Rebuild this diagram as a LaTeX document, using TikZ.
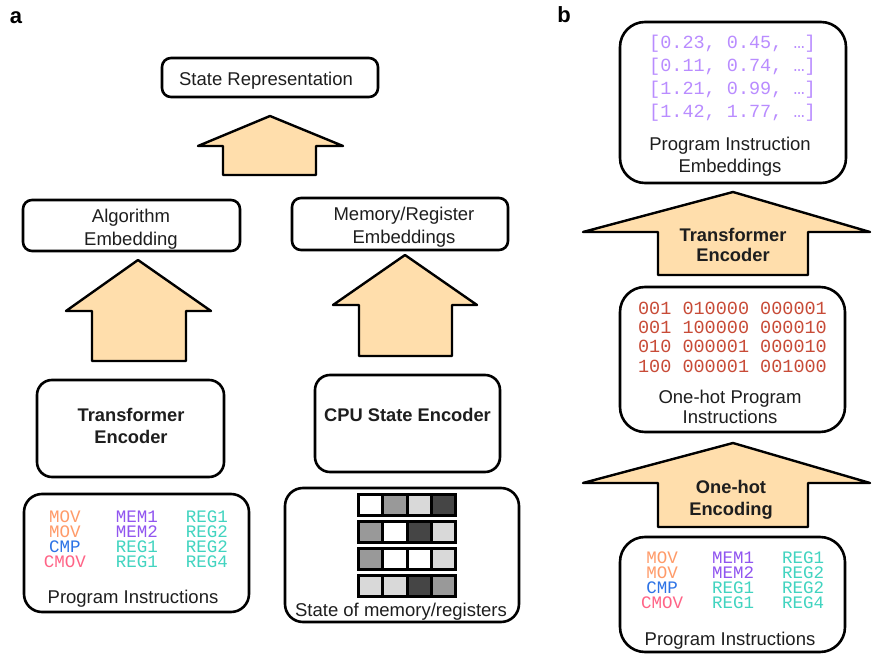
\documentclass[tikz,border=0pt]{standalone}
\usepackage{fontspec}
\setmainfont{Liberation Sans}
\newfontfamily\monof{Liberation Mono}
\definecolor{txtc}{RGB}{30,30,30}
\definecolor{arrowc}{RGB}{255,222,172}
\definecolor{embc}{RGB}{185,140,255}
\definecolor{ohc}{RGB}{200,75,55}
\definecolor{movc}{RGB}{255,155,105}
\definecolor{cmpc}{RGB}{45,115,230}
\definecolor{cmovc}{RGB}{255,100,135}
\definecolor{memc}{RGB}{145,85,240}
\definecolor{regc}{RGB}{65,212,192}
\definecolor{gmid}{gray}{0.6}
\definecolor{glight}{gray}{0.85}
\definecolor{gdark}{gray}{0.27}
\begin{document}
\begin{tikzpicture}[x=1pt,y=-1pt,
 box/.style={draw=black, line width=2.6pt, rounded corners=#1, fill=white, inner sep=0pt},
 box/.default=9pt,
 txt/.style={inner sep=0pt, text height=13.3pt, text depth=0pt, text=txtc, font=\fontsize{18.5}{20}\selectfont},
 btxt/.style={inner sep=0pt, text height=13.3pt, text depth=0pt, text=txtc, font=\fontsize{18.3}{20}\selectfont\bfseries},
 mono/.style={inner sep=0pt, text height=11pt, text depth=0pt, font=\monof\fontsize{18.5}{20}\selectfont},
 icol/.style={inner sep=0pt, anchor=base, text width=50pt, align=center, font=\monof\fontsize{17.5}{15}\selectfont},
 blockarrow/.style={draw=black, line width=2.4pt, fill=arrowc, line join=round},
 cell/.style={draw=black, line width=3pt},
 panel/.style={inner sep=0pt, anchor=base, font=\fontsize{22}{24}\selectfont\bfseries},
]
\useasboundingbox (0,0) rectangle (875,655);

% panel labels
\node[panel] (la) at (16,23.5) {a};
\node[panel] (lb) at (564,22.5) {b};

% ---------- panel a ----------
\node[box, minimum width=216pt, minimum height=39pt] (sr) at (270,77.5) {};
\node[txt] (srt) at (266,78.5) {State Representation};

\node[box, minimum width=217pt, minimum height=51pt] (ae) at (131.5,225.5) {};
\node[txt] (ae1) at (131,216) {Algorithm};
\node[txt] (ae2) at (131,239) {Embedding};

\node[box, minimum width=216pt, minimum height=52pt] (mr) at (400,224) {};
\node[txt] (mr1) at (404,214) {Memory/Register};
\node[txt] (mr2) at (404,236.5) {Embeddings};

\node[box=15pt, minimum width=187pt, minimum height=97pt] (te) at (130.5,428.5) {};
\node[btxt] (te1) at (131,415) {Transformer};
\node[btxt] (te2) at (131,436.5) {Encoder};

\node[box=15pt, minimum width=185pt, minimum height=97pt] (cpu) at (407.5,423.5) {};
\node[btxt] (cput) at (407.5,414.5) {CPU State Encoder};

% arrows panel a
\draw[blockarrow] (270,116) -- (343,146) -- (316,146) -- (316,175) -- (223,175) -- (223,146) -- (198,146) -- cycle;
\draw[blockarrow] (138,260) -- (211,311) -- (186,311) -- (186,361) -- (92,361) -- (92,311) -- (66,311) -- cycle;
\draw[blockarrow] (405,255) -- (477,305) -- (452,305) -- (452,356) -- (359,356) -- (359,305) -- (333,305) -- cycle;

% program instructions (left)
\node[box=18pt, minimum width=225pt, minimum height=118pt] (pil) at (136.5,553) {};
\node[icol] (lc1) at (65,522) {\color{movc}MOV\\\color{movc}MOV\\\color{cmpc}CMP\\\color{cmovc}CMOV};
\node[icol] (lc2) at (137,522) {\color{memc}MEM1\\\color{memc}MEM2\\\color{regc}REG1\\\color{regc}REG1};
\node[icol] (lc3) at (207,522) {\color{regc}REG1\\\color{regc}REG2\\\color{regc}REG2\\\color{regc}REG4};
\node[txt] (pilt) at (133,596.5) {Program Instructions};

% state of memory/registers
\node[box=18pt, minimum width=234pt, minimum height=134pt] (sm) at (402,555) {};
\foreach \r/\ca/\cb/\cc/\cd [count=\i from 0] in {0/white/gmid/glight/gdark, 1/gmid/white/gdark/glight, 2/gmid/white/white/glight, 3/glight/glight/gdark/gmid}{
  \pgfmathsetmacro{\yt}{494.5+27*\i}
  \pgfmathsetmacro{\yb}{\yt+21}
  \draw[cell, fill=\ca] (358.5,\yt) rectangle (382.75,\yb);
  \draw[cell, fill=\cb] (382.75,\yt) rectangle (407,\yb);
  \draw[cell, fill=\cc] (407,\yt) rectangle (431.25,\yb);
  \draw[cell, fill=\cd] (431.25,\yt) rectangle (455.5,\yb);
}
\node[txt] (smt) at (401,609.5) {State of memory/registers};

% ---------- panel b ----------
\node[box=25pt, minimum width=226pt, minimum height=161pt] (pie) at (733,102.5) {};
\node[mono, text=embc] (e1) at (732.5,43.5) {[0.23, 0.45, …]};
\node[mono, text=embc] (e2) at (732.5,66.5) {[0.11, 0.74, …]};
\node[mono, text=embc] (e3) at (732.5,89.5) {[1.21, 0.99, …]};
\node[mono, text=embc] (e4) at (732.5,112) {[1.42, 1.77, …]};
\node[txt] (piet1) at (730,144) {Program Instruction};
\node[txt] (piet2) at (730,165.5) {Embeddings};

\draw[blockarrow] (733,192) -- (870,232) -- (808,232) -- (808,275) -- (658,275) -- (658,232) -- (583,232) -- cycle;
\node[btxt] (ta1) at (733,234.5) {Transformer};
\node[btxt] (ta2) at (733,255) {Encoder};

\node[box=25pt, minimum width=225pt, minimum height=145pt] (oh) at (732.5,359.5) {};
\node[mono, text=ohc] (o1) at (732.5,309) {001 010000 000001};
\node[mono, text=ohc] (o2) at (732.5,327.5) {001 100000 000010};
\node[mono, text=ohc] (o3) at (732.5,346.5) {010 000001 000010};
\node[mono, text=ohc] (o4) at (732.5,366.5) {100 000001 001000};
\node[txt] (oht1) at (730,397) {One-hot Program};
\node[txt] (oht2) at (730,417) {Instructions};

\draw[blockarrow] (733,443) -- (870,483) -- (808,483) -- (808,527) -- (658,527) -- (658,483) -- (583,483) -- cycle;
\node[btxt] (oa1) at (731,486.5) {One-hot};
\node[btxt] (oa2) at (731,508.5) {Encoding};

\node[box=25pt, minimum width=225pt, minimum height=115pt] (pir) at (732.5,594.5) {};
\node[icol] (rc1) at (662,563.5) {\color{movc}MOV\\\color{movc}MOV\\\color{cmpc}CMP\\\color{cmovc}CMOV};
\node[icol] (rc2) at (733,563.5) {\color{memc}MEM1\\\color{memc}MEM2\\\color{regc}REG1\\\color{regc}REG1};
\node[icol] (rc3) at (803,563.5) {\color{regc}REG1\\\color{regc}REG2\\\color{regc}REG2\\\color{regc}REG4};
\node[txt] (pirt) at (730,638.5) {Program Instructions};
\end{tikzpicture}
\end{document}
